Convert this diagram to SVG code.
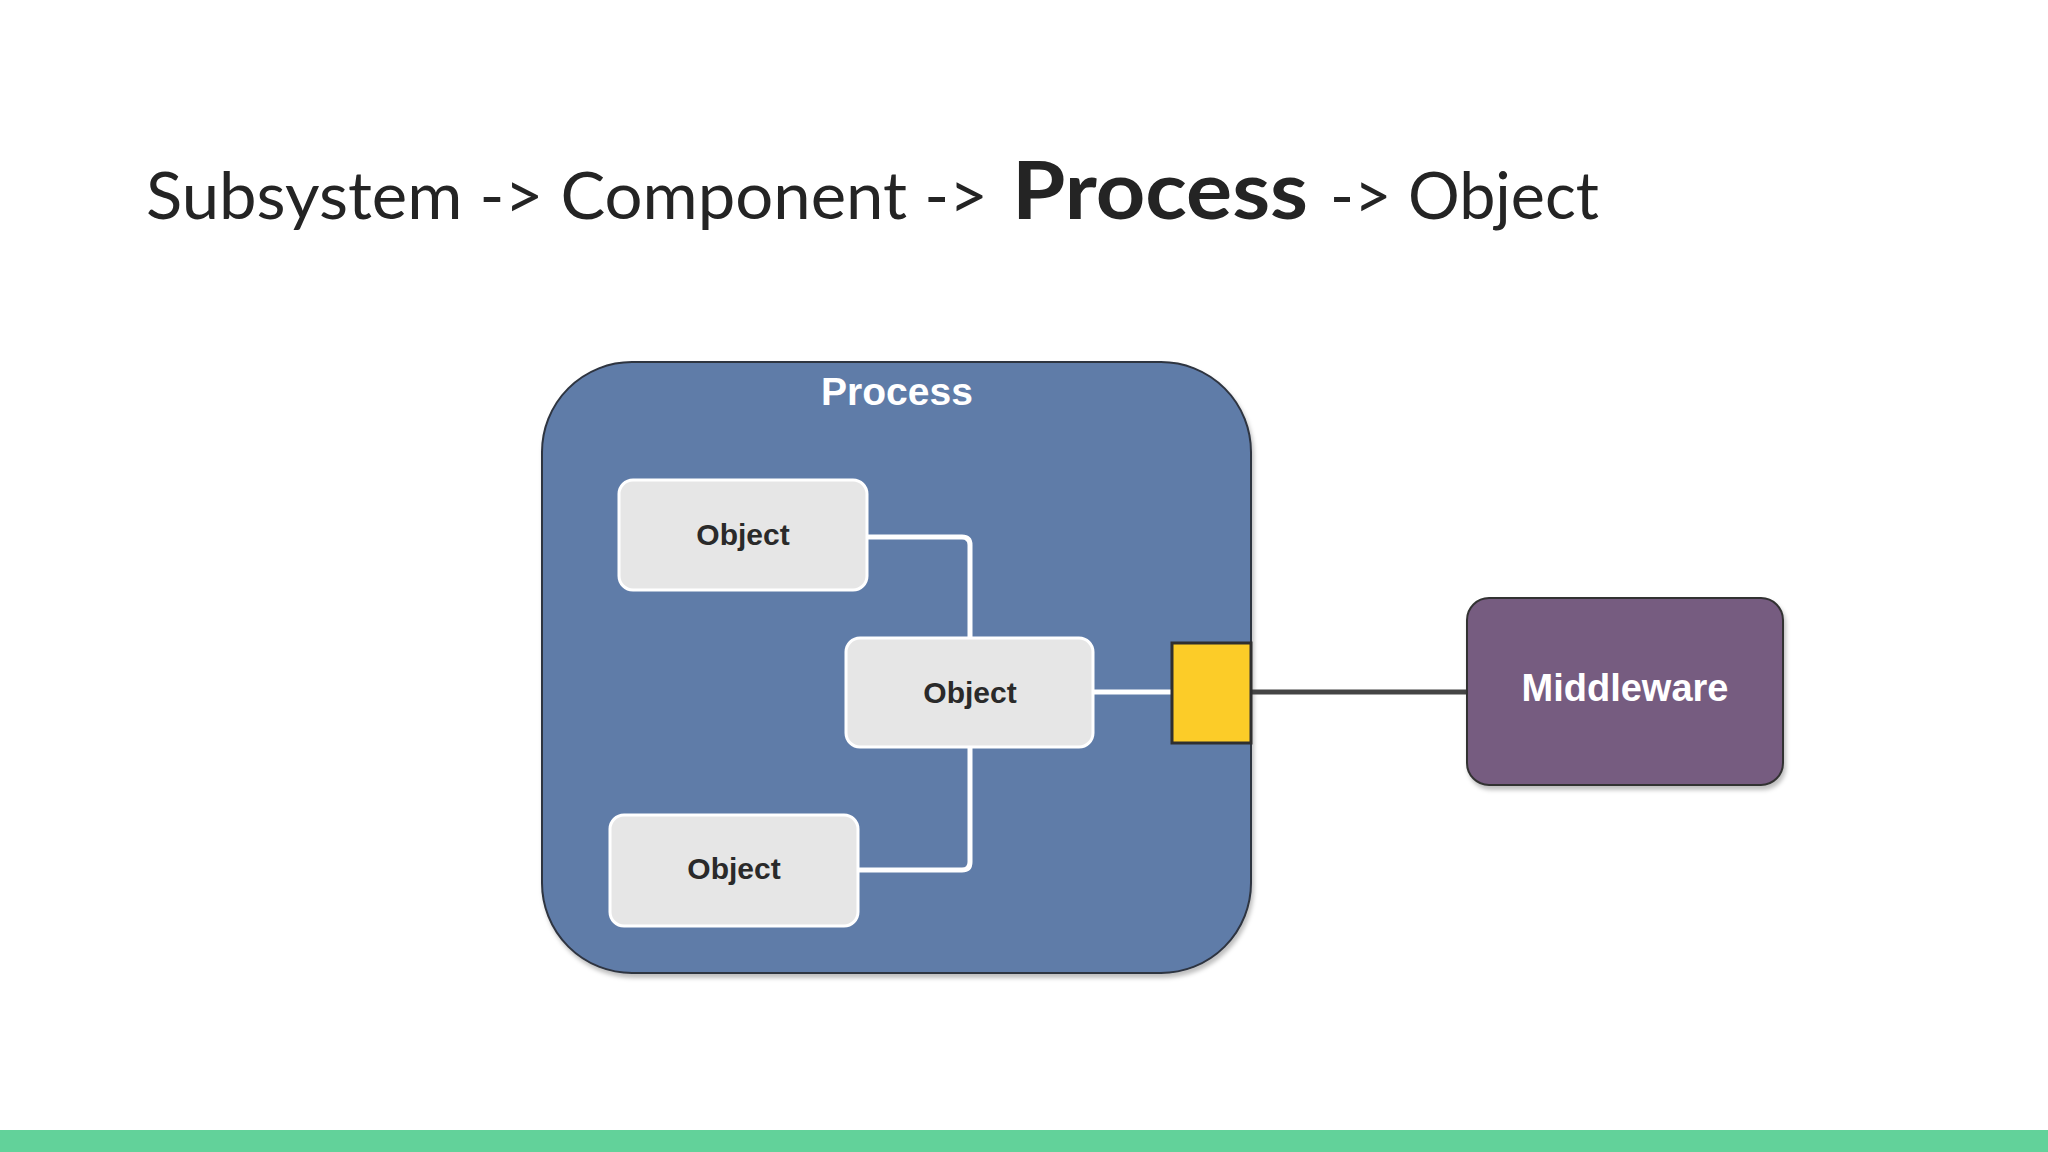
<svg xmlns="http://www.w3.org/2000/svg" width="2048" height="1152" viewBox="0 0 2048 1152">
  <style>
    .title { font-family: Lato, "Open Sans", "Liberation Sans", sans-serif; fill: #242424; }
    .reg { font-size: 66px; font-weight: 400; }
    .bold { font-size: 80px; font-weight: 700; }
    .obj rect { fill: #e6e6e6; stroke: #ffffff; stroke-width: 3; }
    .lbl { font-family: "Liberation Sans", Arial, sans-serif; font-weight: 700; text-anchor: middle; }
    .objtxt { font-size: 30px; fill: #2a2a2a; }
    .wire { fill: none; stroke: #ffffff; stroke-width: 5; }
    .link { fill: none; stroke: #454545; stroke-width: 5; }
  </style>
  <defs>
    <filter id="shadow" x="-5%" y="-5%" width="115%" height="115%">
      <feDropShadow dx="2" dy="4" stdDeviation="2" flood-color="#000000" flood-opacity="0.25"/>
    </filter>
  </defs>
  <rect x="0" y="0" width="2048" height="1152" fill="#ffffff"/>

  <g id="title">
    <text class="title reg" x="146" y="219" textLength="842" lengthAdjust="spacingAndGlyphs">Subsystem -&gt; Component -&gt;</text>
    <text class="title bold" x="1012" y="219" textLength="296" lengthAdjust="spacingAndGlyphs">Process</text>
    <text class="title reg" x="1330" y="219" textLength="269" lengthAdjust="spacingAndGlyphs">-&gt; Object</text>
  </g>

  <g id="process">
    <rect x="542" y="362" width="709" height="611" rx="90" ry="90" fill="#5f7ba8" stroke="#2e3440" stroke-width="2" filter="url(#shadow)"/>
    <text class="lbl" x="897" y="405" font-size="39" fill="#ffffff">Process</text>
  </g>

  <g id="connectors">
    <path class="wire" d="M867,537 H962 Q970,537 970,545 V638"/>
    <path class="wire" d="M970,747 V862 Q970,870 962,870 H858"/>
    <path class="wire" d="M1093,692 H1172"/>
    <path class="link" d="M1251,692 H1467"/>
  </g>

  <g id="object1" class="obj">
    <rect x="619" y="480" width="248" height="110" rx="14" ry="14"/>
    <text class="lbl objtxt" x="743" y="545">Object</text>
  </g>
  <g id="object2" class="obj">
    <rect x="846" y="638" width="247" height="109" rx="14" ry="14"/>
    <text class="lbl objtxt" x="970" y="703">Object</text>
  </g>
  <g id="object3" class="obj">
    <rect x="610" y="815" width="248" height="111" rx="14" ry="14"/>
    <text class="lbl objtxt" x="734" y="879">Object</text>
  </g>

  <g id="port">
    <rect x="1172" y="643" width="79" height="100" fill="#fccc28" stroke="#2f2f2f" stroke-width="3"/>
  </g>

  <g id="middleware">
    <rect x="1467" y="598" width="316" height="187" rx="22" ry="22" fill="#765b80" stroke="#333333" stroke-width="2" filter="url(#shadow)"/>
    <text class="lbl" x="1625" y="701" font-size="38" fill="#ffffff">Middleware</text>
  </g>

  <rect id="footer-bar" x="0" y="1130" width="2048" height="22" fill="#62d29a"/>
</svg>
